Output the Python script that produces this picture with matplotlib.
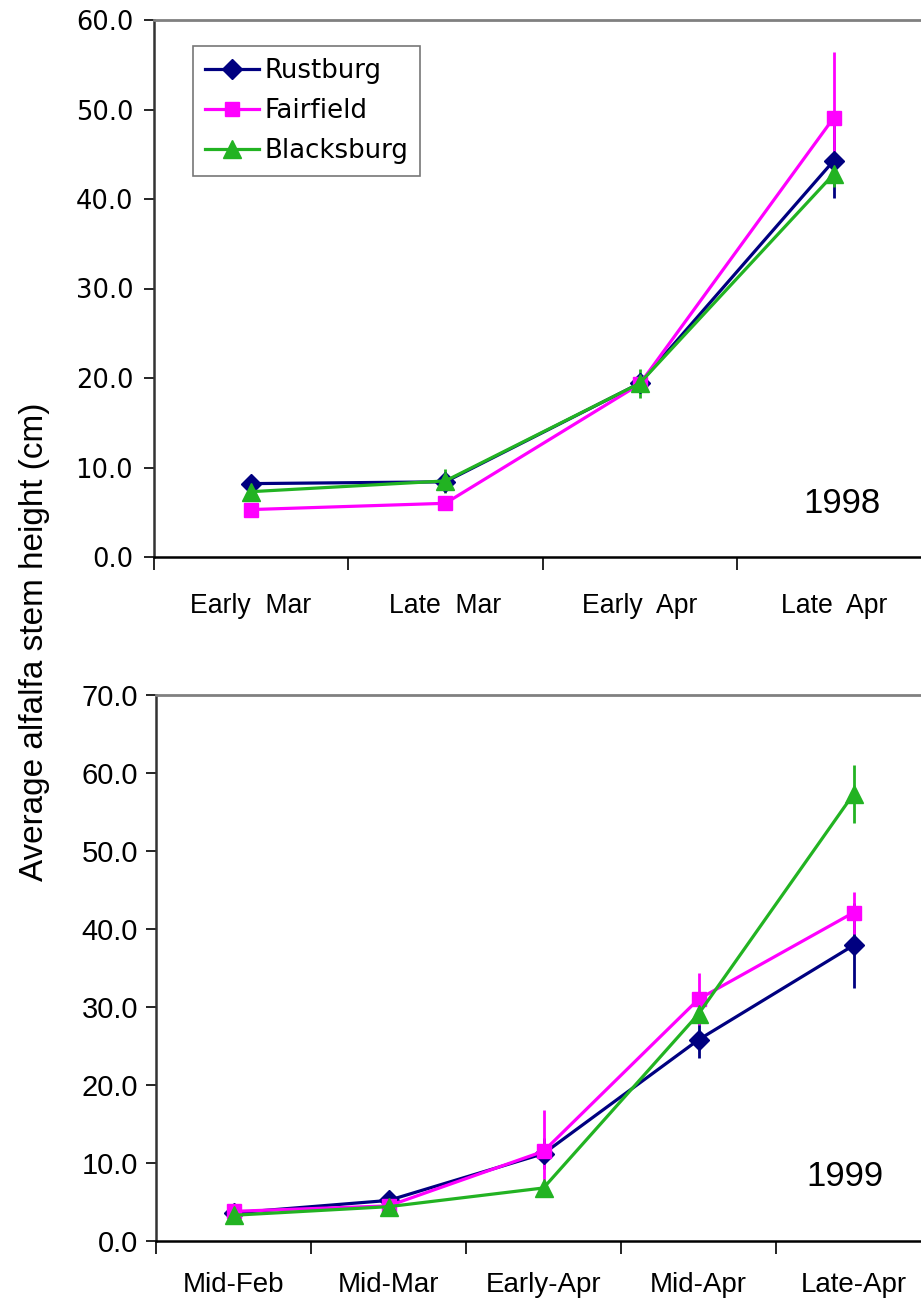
import matplotlib
matplotlib.use('Agg')
import matplotlib.pyplot as plt
from matplotlib import font_manager
from matplotlib.ticker import FixedLocator, FormatStrFormatter
import numpy as np

# 1998 data
cats_98 = ['Early  Mar', 'Late  Mar', 'Early  Apr', 'Late  Apr']
rust_98 = [8.2, 8.4, 19.4, 44.3]
fair_98 = [5.3, 6.0, 19.3, 49.1]
black_98 = [7.3, 8.5, 19.4, 42.8]
rust_98_err = [0.6, 0.4, 0.8, 4.2]
fair_98_err = [0.4, 0.4, 0.8, 7.3]
black_98_err = [0.5, 1.3, 1.6, 1.5]

# 1999 data
cats_99 = ['Mid-Feb', 'Mid-Mar', 'Early-Apr', 'Mid-Apr', 'Late-Apr']
rust_99 = [3.6, 5.2, 11.2, 25.8, 37.9]
fair_99 = [3.8, 4.5, 11.5, 31.0, 42.1]
black_99 = [3.3, 4.4, 6.8, 29.1, 57.3]
rust_99_err = [0.3, 0.4, 2.0, 2.4, 5.4]
fair_99_err = [0.3, 0.4, 5.3, 3.3, 2.7]
black_99_err = [0.3, 0.3, 0.6, 1.0, 3.7]

names = ['Rustburg', 'Fairfield', 'Blacksburg']
colors = ['#000080', '#FF00FF', '#22B322']
markers = ['D', 's', '^']
msizes = [10.5, 10.5, 12.5]

avail = {f.name for f in font_manager.fontManager.ttflist}
if 'Liberation Sans Narrow' in avail:
    narrow, nscale = 'Liberation Sans Narrow', 1.0
else:
    narrow, nscale = 'Liberation Sans', 0.87

fig = plt.figure(figsize=(9.21, 13.05), dpi=100)
W, H = 921.0, 1305.0


def make_axes(left, right, top, bottom):
    return fig.add_axes([left / W, 1 - bottom / H, (right - left) / W, (bottom - top) / H])


def style(ax, cats, ymax, ytick_font, ytick_size, ytick_pad, xfont, xsize, xpad):
    n = len(cats)
    ax.set_xlim(0, n)
    ax.set_ylim(0, ymax)
    ax.xaxis.set_major_locator(FixedLocator(np.arange(n + 1)))
    ax.xaxis.set_minor_locator(FixedLocator(np.arange(n) + 0.5))
    ax.set_xticklabels([], minor=False)
    ax.set_xticklabels(cats, minor=True, fontfamily=xfont, fontsize=xsize)
    ax.tick_params(axis='x', which='major', direction='out', length=9, width=1.2, color='black')
    ax.tick_params(axis='x', which='minor', length=0, pad=xpad)
    ax.set_yticks(np.arange(0, ymax + 1, 10))
    ax.yaxis.set_major_formatter(FormatStrFormatter('%.1f'))
    ax.tick_params(axis='y', direction='out', length=7, width=1.2, pad=ytick_pad)
    for lab in ax.get_yticklabels():
        lab.set_fontfamily(ytick_font)
        lab.set_fontsize(ytick_size)
    ax.spines['right'].set_visible(False)
    ax.spines['top'].set_color('#808080')
    ax.spines['top'].set_linewidth(2)
    ax.spines['left'].set_color('#333333')
    ax.spines['left'].set_linewidth(1.8)
    ax.spines['bottom'].set_color('black')
    ax.spines['bottom'].set_linewidth(1.8)


def draw(ax, series, errs):
    x = np.arange(len(series[0])) + 0.5
    lines = []
    for vals, err, name, c, m, ms in zip(series, errs, names, colors, markers, msizes):
        cont = ax.errorbar(x, vals, yerr=err, color=c, marker=m, markersize=ms,
                           linewidth=2.3, elinewidth=2, capsize=0, label=name,
                           markeredgecolor=c)
        lines.append(cont[0])
    return lines


# top panel
ax1 = make_axes(154, 931, 20, 557)
handles = draw(ax1, [rust_98, fair_98, black_98], [rust_98_err, fair_98_err, black_98_err])
style(ax1, cats_98, 60, 'DejaVu Sans', 18.5, 8, narrow, 22 * nscale, 26)
fig.text(842 / W, 1 - 503 / H, '1998', fontsize=25, fontfamily='Liberation Sans',
         ha='center', va='center')
leg = ax1.legend(handles=handles, labels=names, loc='upper left',
                 bbox_to_anchor=(0.0502, 0.9516), borderaxespad=0,
                 prop={'family': 'DejaVu Sans', 'size': 18.7}, frameon=True, fancybox=False,
                 edgecolor='#555555', handlelength=2.1, handletextpad=0.2,
                 borderpad=0.45, labelspacing=0.55)
leg.get_frame().set_linewidth(1.2)

# bottom panel
ax2 = make_axes(156, 931, 695, 1241)
draw(ax2, [rust_99, fair_99, black_99], [rust_99_err, fair_99_err, black_99_err])
style(ax2, cats_99, 70, 'Liberation Sans', 21, 6, narrow, 23 * nscale, 22)
fig.text(845 / W, 1 - 1176 / H, '1999', fontsize=25, fontfamily='Liberation Sans',
         ha='center', va='center')

# shared y label
fig.text(35 / W, 1 - 642 / H, 'Average alfalfa stem height (cm)', rotation=90,
         ha='center', va='center', fontsize=27.5 * nscale, fontfamily=narrow)

fig.savefig('out.png', dpi=100)
